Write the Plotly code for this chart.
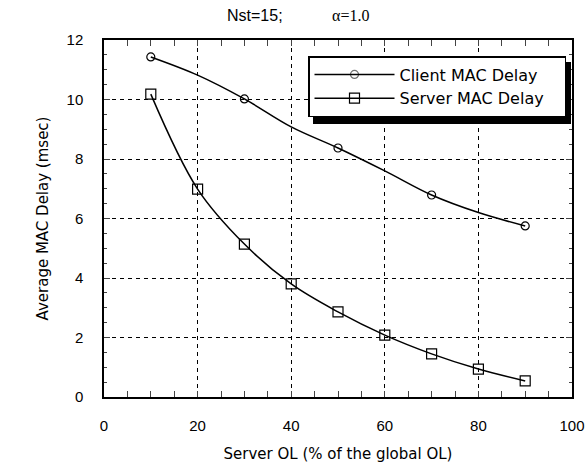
import plotly.graph_objects as go

x_vals = [10, 20, 30, 40, 50, 60, 70, 80, 90]
client_delay = [11.43, 10.82, 10.02, 9.08, 8.37, 7.60, 6.79, 6.20, 5.75]
server_delay = [10.18, 6.99, 5.14, 3.80, 2.86, 2.08, 1.45, 0.94, 0.54]
client_marker_shown = [1, 0, 1, 0, 1, 0, 1, 0, 1]
series_names = ["Client MAC Delay", "Server MAC Delay"]
x_ticks = [0, 20, 40, 60, 80, 100]
y_ticks = [0, 2, 4, 6, 8, 10, 12]

PAD = "\u00a0" * 3  # extra right padding inside the legend box

fig = go.Figure()
fig.add_trace(go.Scatter(
    x=x_vals, y=client_delay, mode="lines+markers", name=series_names[0] + PAD,
    line=dict(color="black", width=1.5, shape="spline"),
    marker=dict(symbol="circle-open", size=8, opacity=[float(m) for m in client_marker_shown],
                color="black", line=dict(width=1.2)),
))
fig.add_trace(go.Scatter(
    x=x_vals, y=server_delay, mode="lines+markers", name=series_names[1] + PAD,
    line=dict(color="black", width=1.5, shape="spline"),
    marker=dict(symbol="square-open", size=10, color="black", line=dict(width=1.2)),
))

PW, PH = 468, 357
# legend drop shadow
fig.add_shape(type="rect", xref="paper", yref="paper",
              x0=(313 - 104) / PW, x1=(571 - 104) / PW,
              y0=(397 - 124) / PH, y1=(397 - 62) / PH,
              fillcolor="black", line=dict(width=0), layer="above")

fig.add_annotation(text="Nst=15;", xref="paper", yref="paper",
                   x=(255 - 104) / PW, y=(397 - 15) / PH, showarrow=False,
                   xanchor="center", yanchor="middle",
                   font=dict(family="Liberation Sans, Arial, sans-serif", size=16))
fig.add_annotation(text="α=1.0", xref="paper", yref="paper",
                   x=(350 - 104) / PW, y=(397 - 15) / PH, showarrow=False,
                   xanchor="center", yanchor="middle",
                   font=dict(family="Liberation Serif, Times New Roman, serif", size=16))

fig.update_layout(
    width=586, height=467,
    margin=dict(l=104, r=14, t=40, b=70),
    paper_bgcolor="white", plot_bgcolor="white",
    font=dict(family="Liberation Sans, Arial, sans-serif", color="black", size=15),
    showlegend=True,
    legend=dict(x=(308 - 104) / PW, y=(397 - 56) / PH, xanchor="left", yanchor="top",
                bgcolor="white", bordercolor="black", borderwidth=1.5,
                font=dict(family="DejaVu Sans, sans-serif", size=16),
                tracegroupgap=0, itemwidth=80),
    xaxis=dict(range=[0, 100], tickvals=x_ticks, ticks="inside", ticklen=6,
               showline=True, linecolor="black", linewidth=1.5, mirror="ticks",
               showgrid=True, gridcolor="black", griddash="4px,4px", gridwidth=1,
               tickfont=dict(size=15), ticklabelstandoff=14, automargin=False,
               minor=dict(dtick=5, ticks="inside", ticklen=6, showgrid=False),
               title=dict(text="Server OL (% of the global OL)",
                          font=dict(family="DejaVu Sans, sans-serif", size=15), standoff=16),
               zeroline=False),
    yaxis=dict(range=[0, 12], tickvals=y_ticks, ticks="inside", ticklen=6,
               showline=True, linecolor="black", linewidth=1.5, mirror="ticks",
               showgrid=True, gridcolor="black", griddash="4px,4px", gridwidth=1,
               tickfont=dict(size=15), ticklabelstandoff=16, automargin=False,
               minor=dict(dtick=0.5, ticks="inside", ticklen=3, showgrid=False),
               title=dict(text="Average MAC Delay (msec)",
                          font=dict(family="DejaVu Sans, sans-serif", size=15), standoff=14),
               zeroline=False),
)

fig.write_html("out.html")
